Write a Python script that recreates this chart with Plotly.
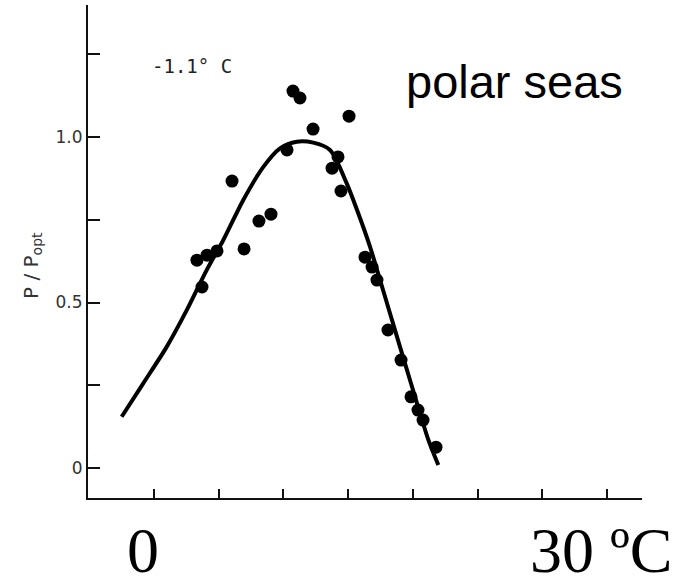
import plotly.graph_objects as go

# Observed data points (temperature offset in deg C, P/Popt)
pt_x = [3.32, 4.10, 4.87, 3.71, 6.03, 6.96, 8.11, 9.04, 10.28, 10.74, 11.28, 12.29,
        14.22, 13.76, 14.45, 15.07, 16.31, 16.85, 17.23, 18.08, 19.09, 19.86, 20.40,
        20.79, 21.79]
pt_y = [0.628, 0.643, 0.656, 0.547, 0.867, 0.662, 0.746, 0.767, 0.961, 1.139, 1.118, 1.024,
        0.940, 0.906, 0.837, 1.063, 0.637, 0.607, 0.568, 0.417, 0.326, 0.215, 0.175,
        0.145, 0.063]

# Fitted curve
curve_x = [-2.50, -0.83, 0.98, 2.53, 4.07, 5.36, 6.90, 8.45, 9.74, 11.03, 12.31, 13.60,
           14.89, 15.79, 16.69, 17.47, 18.24, 19.01, 19.78, 20.56, 21.20, 21.97]
curve_y = [0.155, 0.256, 0.366, 0.477, 0.598, 0.689, 0.810, 0.910, 0.966, 0.986, 0.983, 0.961,
           0.860, 0.769, 0.669, 0.568, 0.467, 0.366, 0.266, 0.165, 0.085, 0.009]

x_ticks = [0, 5, 10, 15, 20, 25, 30, 35]
y_ticks = [0, 0.5, 1.0]
y_ticktext = ["0", "0.5", "1.0"]
y_minor_ticks = [0.25, 0.75, 1.25]

fig = go.Figure()
fig.add_trace(go.Scatter(x=curve_x, y=curve_y, mode="lines",
                         line=dict(color="black", width=4, shape="spline", smoothing=0.8),
                         hoverinfo="skip", showlegend=False))
fig.add_trace(go.Scatter(x=pt_x, y=pt_y, mode="markers", marker=dict(color="black", size=13),
                         showlegend=False))

fig.update_xaxes(range=[-5.10, 37.71], showline=True, linecolor="#111", linewidth=2,
                 ticks="inside", ticklen=9, tickwidth=2, tickcolor="#111",
                 tickvals=x_ticks, showticklabels=False, showgrid=False, zeroline=False)
fig.update_yaxes(range=[-0.0906, 1.399], showline=True, linecolor="#111", linewidth=2,
                 ticks="inside", ticklen=12, tickwidth=2, tickcolor="#111",
                 tickvals=y_ticks, ticktext=y_ticktext, showgrid=False, zeroline=False,
                 minor=dict(tickvals=y_minor_ticks, ticks="inside", ticklen=12,
                            tickwidth=2, tickcolor="#111", showgrid=False),
                 tickfont=dict(family="DejaVu Sans", size=17, color="#333"))

annotations = [
    dict(x=-0.1011, y=0.4726, xref="paper", yref="paper", text="P / P<sub>opt</sub>",
         textangle=-90, showarrow=False, xanchor="center", yanchor="middle",
         font=dict(family="DejaVu Sans", size=20, color="#333")),
    dict(x=-0.31, y=1.214, xref="x", yref="y", text="-1.1° C", xanchor="left", showarrow=False,
         font=dict(family="DejaVu Sans Mono", size=19, color="#222")),
    dict(x=19.3, y=1.169, xref="x", yref="y", text="polar seas", xanchor="left", showarrow=False,
         font=dict(family="Liberation Sans", size=47, color="black")),
    dict(x=0.0993, y=-0.0304, xref="paper", yref="paper", text="0", showarrow=False,
         xanchor="center", yanchor="top",
         font=dict(family="Liberation Serif", size=64, color="black")),
    dict(x=0.794, y=-0.0304, xref="paper", yref="paper", text="30 ºC", xanchor="left",
         yanchor="top", showarrow=False,
         font=dict(family="Liberation Serif", size=64, color="black")),
]
fig.update_layout(annotations=annotations, width=676, height=578,
                  margin=dict(l=88, r=34, t=5, b=80),
                  paper_bgcolor="white", plot_bgcolor="white")

fig.write_html("out.html")
